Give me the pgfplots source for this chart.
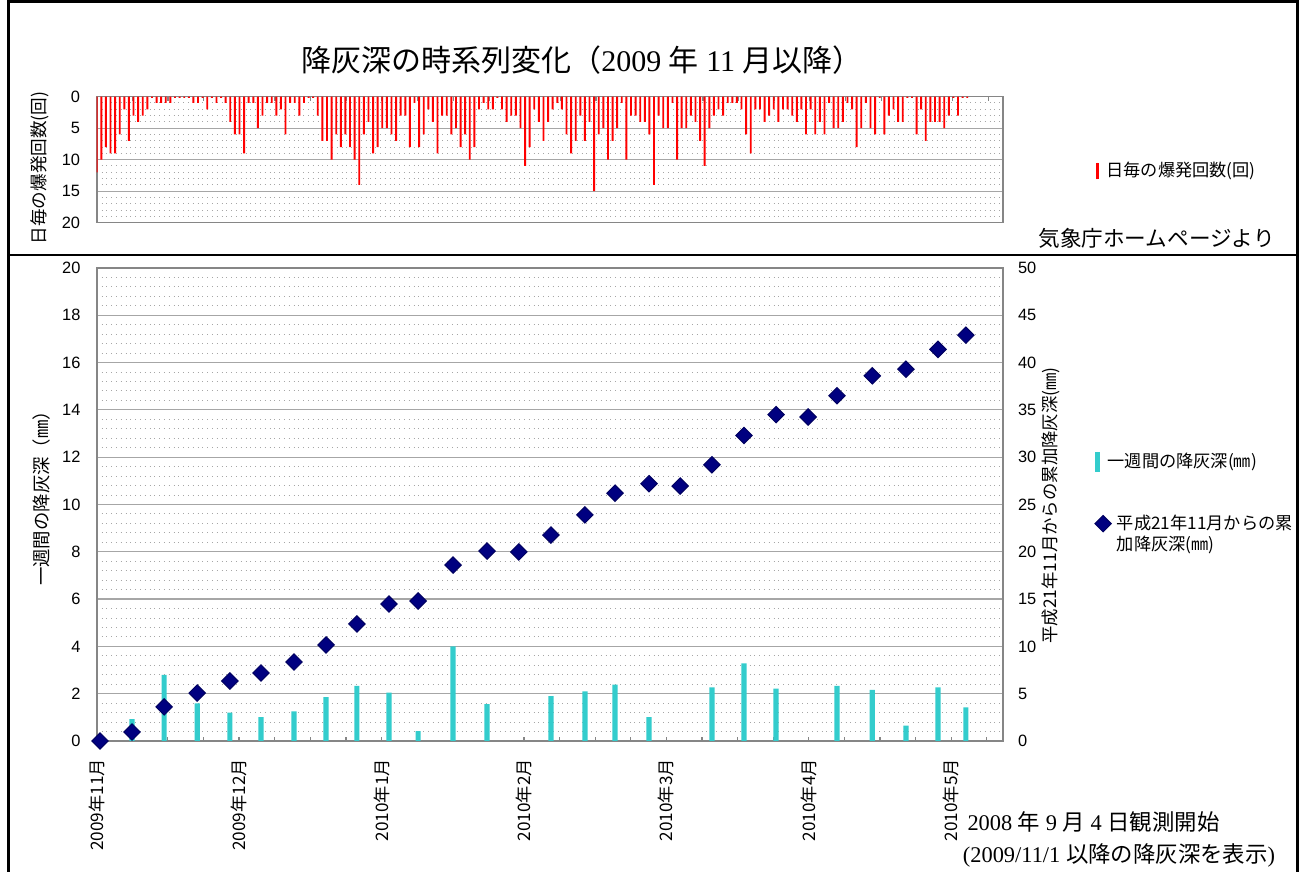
\documentclass[border=0pt]{standalone}
\usepackage{fontspec}
\setmainfont{Liberation Sans}
\newfontfamily\cjk{Noto Sans CJK JP}
\newfontfamily\mincho{Liberation Serif}
\usepackage{pgfplots}
\pgfplotsset{compat=1.18}
\usepackage{pgfplotstable}

\definecolor{explred}{HTML}{FF0000}
\definecolor{ashcyan}{HTML}{33CCCC}
\definecolor{cumnavy}{HTML}{000080}
\definecolor{gridgray}{HTML}{A6A6A6}
\definecolor{axisgray}{HTML}{868686}

% weekly ash depth (left axis, mm)
\pgfplotstableread{
x depth
1.00 0.92
2.00 2.80
3.03 1.59
4.05 1.20
5.02 1.01
6.05 1.25
7.05 1.85
8.01 2.33
9.01 2.04
9.92 0.42
11.01 4.00
12.07 1.56
14.06 1.90
15.12 2.10
16.06 2.38
17.12 1.01
19.08 2.27
20.08 3.28
21.08 2.21
22.98 2.33
24.08 2.16
25.13 0.65
26.13 2.27
27.00 1.42
}\weekly

% cumulative ash depth since Nov 2009 (right axis, mm)
\pgfplotstableread{
x cum
0.00 0.00
1.00 0.95
2.00 3.60
3.03 5.07
4.05 6.34
5.02 7.19
6.05 8.35
7.05 10.15
8.01 12.37
9.01 14.48
9.92 14.80
11.01 18.60
12.07 20.08
13.06 19.98
14.06 21.77
15.12 23.90
16.06 26.20
17.12 27.20
18.09 26.95
19.08 29.20
20.08 32.30
21.08 34.50
22.08 34.25
22.98 36.50
24.08 38.60
25.13 39.30
26.13 41.40
27.00 42.90
}\cumulative

\pgfplotsset{
  every tick label/.append style={font=\fontsize{8.2}{10}\selectfont},
  /pgf/number format/assume math mode=true,
}

\begin{document}
\begin{tikzpicture}
\useasboundingbox (0,0) rectangle (651.5pt,436pt);
% frame
\draw[line width=1.4pt] (4.2pt,0) -- (4.2pt,435.2pt) -- (648.6pt,435.2pt) -- (648.6pt,0);
\draw[line width=1.2pt] (4.2pt,308.5pt) -- (648.6pt,308.5pt);

% title and notes
\node at (291pt,406pt) {\fontsize{15}{17}\selectfont\cjk 降灰深の時系列変化（{\mincho 2009 }年{\mincho\ 11 }月以降）};
\node[anchor=east, inner sep=0pt] at (637.5pt,317pt) {\fontsize{10.8}{12}\selectfont\cjk 気象庁ホームページより};
\node at (546.75pt,25pt) {\fontsize{11.2}{12}\selectfont\cjk {\mincho 2008 }年{\mincho\ 9 }月{\mincho\ 4 }日観測開始};
\node at (559.5pt,8.5pt) {\fontsize{11.2}{12}\selectfont\cjk {\mincho (2009/11/1 }以降の降灰深を表示{\mincho )}};

% axis titles
\node[rotate=90] at (20pt,352pt) {\fontsize{8.8}{10}\selectfont\cjk 日毎の爆発回数(回)};
\node[rotate=90] at (21pt,189pt) {\fontsize{9.2}{10}\selectfont\cjk 一週間の降灰深（㎜）};
\node[rotate=90] at (525.5pt,183.25pt) {\fontsize{8.7}{10}\selectfont\cjk 平成21年11月からの累加降灰深(㎜)};

% daily explosions (top)
\begin{axis}[
  at={(48.35pt,324.65pt)}, anchor=south west,
  scale only axis, width=453pt, height=63pt,
  xmin=0, xmax=196.7, ymin=0, ymax=20, y dir=reverse,
  axis line style={axisgray, line width=0.8pt},
  ytick={0,5,...,20}, minor ytick={1,...,19},
  ymajorgrids, yminorgrids,
  major grid style={gridgray, line width=0.6pt},
  minor grid style={gridgray, dotted, line width=0.5pt},
  ytick style={draw=none},
  yticklabel shift=4.8pt,
  xtick={0,7.742,...,194}, xticklabels={}, xtick pos=right,
  xtick style={axisgray, line width=0.6pt}, major tick length=2.2pt, tick align=inside,
  legend style={at={(1.1023,0.41)}, anchor=west, draw=none, fill=none,
    font=\cjk\fontsize{8.6}{10}\selectfont, column sep=3pt, inner sep=0pt,
    nodes={inner sep=0.8pt}},
  legend image code/.code={\draw[explred, line width=1.6pt] (0pt,-4.2pt) -- (0pt,4.2pt);},
]
\addplot[ybar, bar width=0.95pt, fill=explred, draw=none] coordinates {
  (0,12) (1,10) (2,8) (3,9) (4,9) (5,6) (6,2) (7,7) (8,3) (9,4)
  (10,3) (11,2) (12,0.2) (13,1) (14,1) (15,1) (16,1) (17,0.2) (18,0.2) (19,0.2)
  (20,0.2) (21,1) (22,1) (23,0.2) (24,2) (25,0.2) (26,1) (27,0.2) (28,1) (29,4)
  (30,6) (31,6) (32,9) (33,1) (34,1) (35,5) (36,3) (37,1) (38,1) (39,3)
  (40,2) (41,6) (42,1) (43,1) (44,3) (45,1) (46,0.2) (47,0.2) (48,3) (49,7)
  (50,7) (51,10) (52,6) (53,8) (54,6) (55,8) (56,10) (57,14) (58,6) (59,4)
  (60,9) (61,8) (62,5) (63,5) (64,6) (65,7) (66,3) (67,3) (68,8) (69,1)
  (70,8) (71,6) (72,2) (73,4) (74,9) (75,3) (76,3) (77,6) (78,5) (79,8)
  (80,6) (81,10) (82,8) (83,2) (84,1) (85,2) (86,2) (87,0.2) (88,2) (89,4)
  (90,3) (91,3) (92,5) (93,11) (94,8) (95,2) (96,4) (97,7) (98,4) (99,2)
  (100,1) (101,2) (102,6) (103,9) (104,7) (105,3) (106,7) (107,4) (108,15) (109,6)
  (110,5) (111,10) (112,7) (113,5) (114,1) (115,10) (116,3) (117,3) (118,4) (119,4)
  (120,6) (121,14) (122,3) (123,5) (124,5) (125,1) (126,10) (127,5) (128,5) (129,3)
  (130,4) (131,7) (132,11) (133,5) (134,3) (135,2) (136,3) (137,1) (138,1) (139,1)
  (140,2) (141,6) (142,9) (143,2) (144,2) (145,4) (146,3) (147,2) (148,4) (149,2)
  (150,2) (151,3) (152,4) (153,2) (154,6) (155,2) (156,6) (157,4) (158,6) (159,1)
  (160,5) (161,5) (162,4) (163,1) (164,2) (165,8) (166,5) (167,1) (168,5) (169,6)
  (170,0.2) (171,6) (172,3) (173,2) (174,4) (175,4) (176,0.2) (177,0.2) (178,6) (179,2)
  (180,7) (181,4) (182,4) (183,4) (184,5) (185,3) (186,0.2) (187,3) (188,0.2) (189,0.2)
};
\addlegendentry{日毎の爆発回数(回)}
\end{axis}

% weekly ash depth (bottom, left axis)
\begin{axis}[
  at={(48.35pt,65.5pt)}, anchor=south west,
  scale only axis, width=453.15pt, height=236.5pt,
  xmin=-0.103, xmax=28.157, ymin=0, ymax=20,
  axis line style={axisgray, line width=0.8pt},
  ytick={0,2,...,20}, minor y tick num=4,
  ymajorgrids, yminorgrids,
  major grid style={gridgray, line width=0.6pt},
  minor grid style={gridgray, dotted, line width=0.5pt},
  ytick style={draw=none},
  yticklabel shift=4.6pt,
  xtick={-0.103,1.007,2.117,3.227,4.337,5.448,6.558,7.668,8.778,9.888,10.998,12.108,13.218,
    14.328,15.438,16.549,17.659,18.769,19.879,20.989,22.099,23.209,24.319,25.429,26.539,27.649},
  xticklabels={2009年11月,,,,2009年12月,,,,2010年1月,,,,2010年2月,,,,2010年3月,,,,2010年4月,,,,2010年5月,},
  xtick pos=left, tick align=inside, major tick length=2pt,
  xtick style={axisgray, line width=0.6pt},
  xticklabel style={font=\cjk\fontsize{8.6}{10}\selectfont, rotate=90, anchor=east},
  xticklabel shift=5.5pt,
  legend style={at={(1.101,0.5899)}, anchor=west, draw=none, fill=none,
    font=\cjk\fontsize{8.6}{10}\selectfont, column sep=3pt, inner sep=0pt,
    nodes={inner sep=0.8pt}},
  legend image code/.code={\draw[ashcyan, line width=2.6pt] (0pt,-5pt) -- (0pt,5pt);},
]
\addplot[ybar, bar width=2.6pt, fill=ashcyan, draw=none] table[x=x, y=depth] {\weekly};
\addlegendentry{一週間の降灰深(㎜)}
\end{axis}

% cumulative ash depth (bottom, right axis)
\begin{axis}[
  at={(48.35pt,65.5pt)}, anchor=south west,
  scale only axis, width=453.15pt, height=236.5pt,
  xmin=-0.103, xmax=28.157, ymin=0, ymax=50,
  axis y line*=right, axis x line=none,
  axis line style={axisgray, line width=0.8pt},
  ytick={0,5,...,50}, ytick style={draw=none},
  yticklabel shift=4pt,
  legend style={at={(1.101,0.4376)}, anchor=west, draw=none, fill=none,
    font=\cjk\fontsize{8.6}{10}\selectfont, column sep=2pt, inner sep=0pt,
    nodes={inner sep=0.8pt}},
  legend cell align=left,
  legend image code/.code={\draw[#1] plot coordinates {(0pt,0pt)};},
]
\addplot[only marks, mark=square*, mark size=2.9pt,
  mark options={rotate=45, fill=cumnavy, draw=cumnavy!75!black, line width=0.5pt}]
  table[x=x, y=cum] {\cumulative};
\addlegendentry{平成21年11月からの累}
\addlegendimage{empty legend}
\addlegendentry{加降灰深(㎜)}
\end{axis}
\end{tikzpicture}
\end{document}
